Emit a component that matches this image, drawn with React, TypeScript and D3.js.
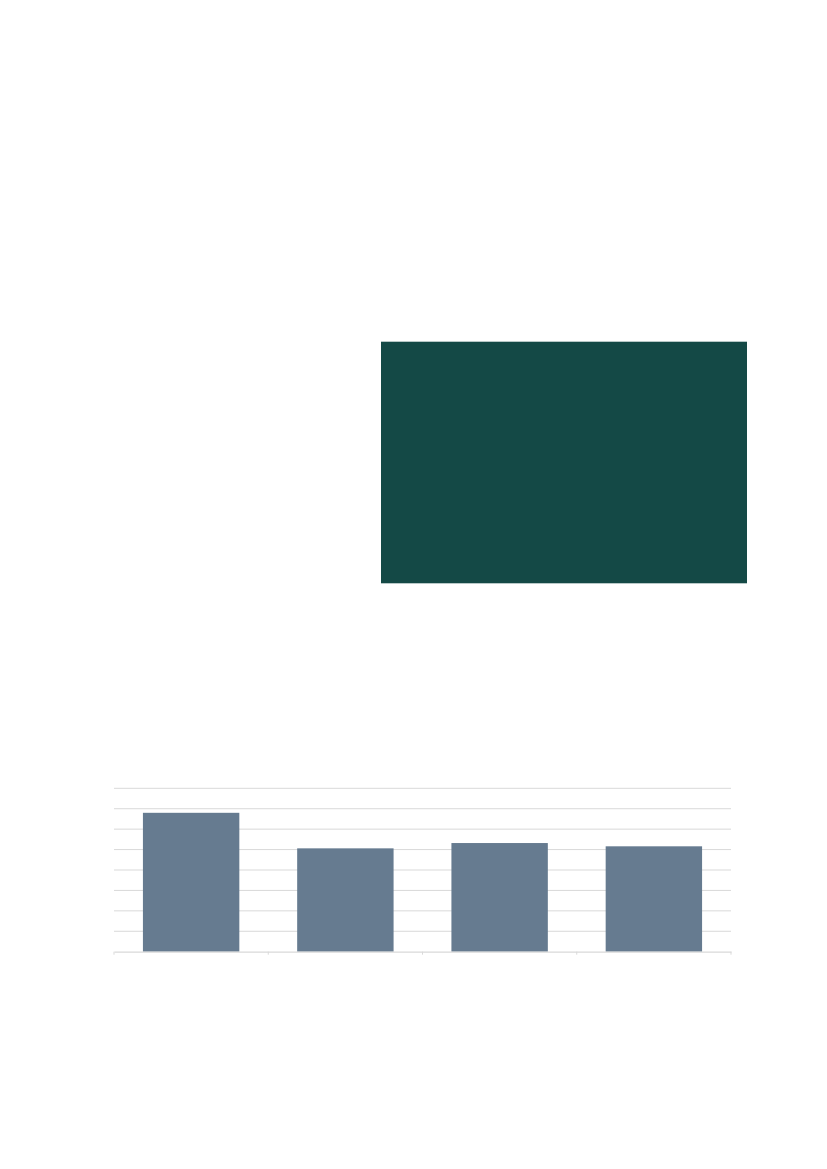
import React, { useEffect, useRef } from 'react';
import * as d3 from 'd3';

// chart data (category labels are not printed in the reference)
const categories = ['Q1', 'Q2', 'Q3', 'Q4'];
const values = [6.8, 5.06, 5.32, 5.16];
const gridTicks = [0, 1, 2, 3, 4, 5, 6, 7, 8];

const PAGE_W = 827;
const PAGE_H = 1169;

export default function App() {
  const svgRef = useRef<SVGSVGElement>(null);

  useEffect(() => {
    if (!svgRef.current) return;
    const svg = d3.select(svgRef.current);
    svg.selectAll('*').remove();

    svg.append('rect').attr('width', PAGE_W).attr('height', PAGE_H).attr('fill', '#ffffff');

    // dark panel
    svg
      .append('rect')
      .attr('x', 381)
      .attr('y', 341.7)
      .attr('width', 366)
      .attr('height', 241.6)
      .attr('fill', '#144946');

    const plot = { left: 114, right: 731, top: 788.3, bottom: 951.7 };

    const x = d3
      .scaleBand<string>()
      .domain(categories)
      .range([plot.left, plot.right])
      .paddingInner(0.375)
      .paddingOuter(0.1875);

    const y = d3.scaleLinear().domain([0, 8]).range([plot.bottom, plot.top]);

    const g = svg.append('g');

    g.selectAll('.grid')
      .data(gridTicks.filter((t) => t > 0))
      .enter()
      .append('line')
      .attr('class', 'grid')
      .attr('x1', plot.left)
      .attr('x2', plot.right)
      .attr('y1', (d) => y(d))
      .attr('y2', (d) => y(d))
      .attr('stroke', '#d9d9d9')
      .attr('stroke-width', 1);

    g.selectAll('.bar')
      .data(values)
      .enter()
      .append('rect')
      .attr('class', 'bar')
      .attr('x', (_d, i) => x(categories[i])!)
      .attr('width', x.bandwidth())
      .attr('y', (d) => y(d))
      .attr('height', (d) => y(0) - y(d))
      .attr('fill', '#667b90');

    // x axis with category boundary ticks, no labels
    const axis = d3
      .axisBottom(x)
      .tickSize(0)
      .tickFormat(() => '');
    const axisG = g.append('g').attr('transform', `translate(0, ${plot.bottom})`).call(axis);
    axisG.select('.domain').attr('stroke', '#d9d9d9').attr('stroke-width', 1.2);

    const bounds = categories.map((c) => x(c)! - (x.step() * x.paddingInner()) / 2);
    bounds[0] = plot.left;
    bounds.push(plot.right);
    g.selectAll('.xtick')
      .data(bounds)
      .enter()
      .append('line')
      .attr('class', 'xtick')
      .attr('x1', (d) => d)
      .attr('x2', (d) => d)
      .attr('y1', plot.bottom)
      .attr('y2', plot.bottom + 3)
      .attr('stroke', '#d9d9d9')
      .attr('stroke-width', 1);
  }, []);

  return (
    <div style={{ position: 'absolute', left: 0, top: 0 }}>
      <svg ref={svgRef} width={PAGE_W} height={PAGE_H} style={{ display: 'block' }} />
    </div>
  );
}
